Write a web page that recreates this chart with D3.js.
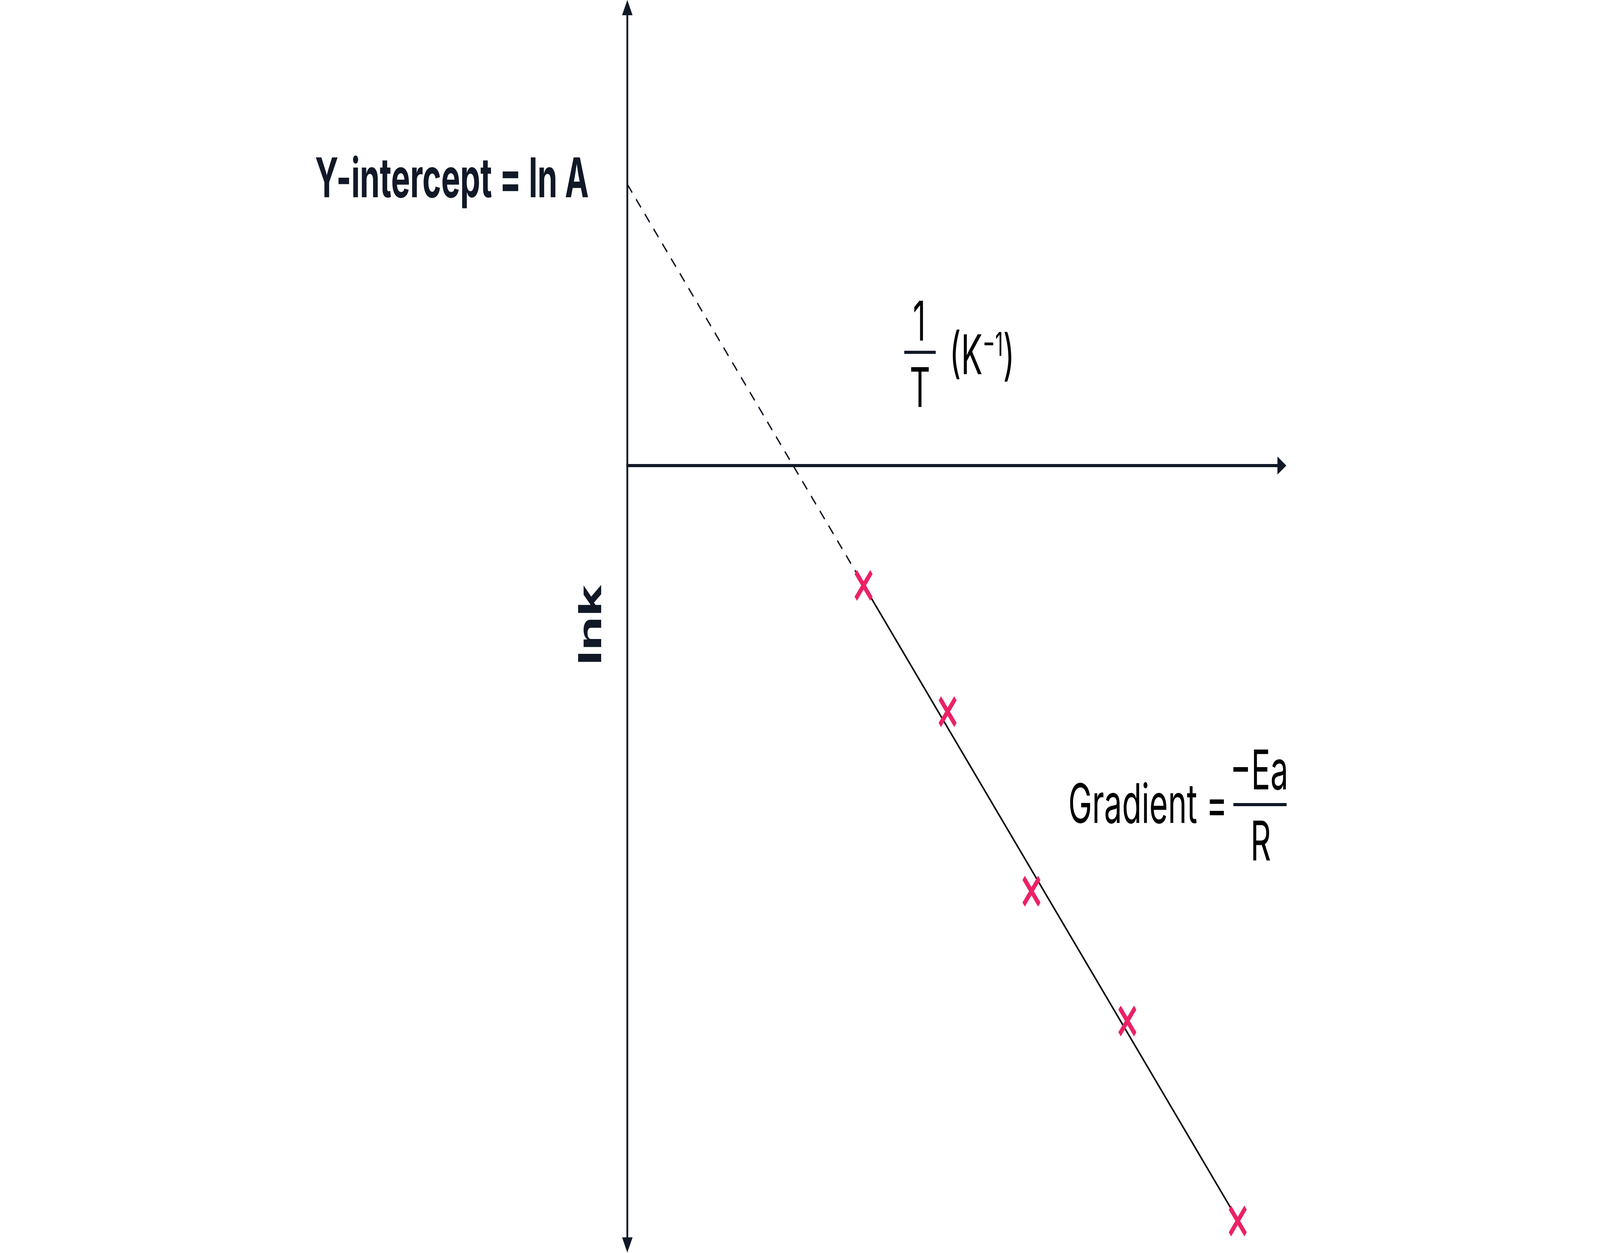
<!DOCTYPE html>
<html>
<head>
<meta charset="utf-8">
<script src="https://cdn.jsdelivr.net/npm/d3@7"></script>
<style>
  html, body { margin: 0; padding: 0; background: #fff; overflow: hidden; }
  svg { display: block; width: 100vw; height: 100vh; }
  text { font-family: Inter, "Noto Sans", sans-serif; }
</style>
</head>
<body>
<div id="chart"></div>
<script>
// points: 1/T (x 10^-3 K^-1) and ln k
const invT = [1.434, 1.944, 2.453, 3.035, 3.705];
const lnK = [-1.023, -2.1, -3.633, -4.74, -6.447];

// best fit line, dashed part is the extrapolation back to the y axis
const dashedX = [0, 1.434];
const dashedY = [2.4, -1.02];
const solidX = [1.434, 3.66];
const solidY = [-1.02, -6.33];

// how far the axes reach
const xDomain = [0, 4];
const yDomain = [-6.717, 3.973];

const width = 7014;
const height = 3208;
const ink = "#111827";
const pink = "#ec2166";

// drawn in a 7014x3208 user space, stretched over the whole window
const svg = d3
  .select("#chart")
  .append("svg")
  .attr("viewBox", `0 0 ${width} ${height}`)
  .attr("preserveAspectRatio", "none")
  .style("background", "#fff");

const x = d3.scaleLinear().domain(xDomain).range([2750, 5639]);
const y = d3.scaleLinear().domain(yDomain).range([3207, 0]);

const x0 = x(0);
const y0 = y(0);
const arrowLen = 39;
const arrowHalf = 23;

// y axis with arrows at both ends
svg
  .append("line")
  .attr("x1", x0)
  .attr("x2", x0)
  .attr("y1", y(yDomain[1]) + arrowLen - 2)
  .attr("y2", y(yDomain[0]) - arrowLen + 2)
  .attr("stroke", ink)
  .attr("stroke-width", 8);

const yTop = y(yDomain[1]);
const yBot = y(yDomain[0]);
svg
  .append("path")
  .attr(
    "d",
    `M${x0},${yTop}L${x0 - arrowHalf},${yTop + arrowLen}L${x0 + arrowHalf},${yTop + arrowLen}Z`
  )
  .attr("fill", ink);
svg
  .append("path")
  .attr(
    "d",
    `M${x0},${yBot}L${x0 - arrowHalf},${yBot - arrowLen}L${x0 + arrowHalf},${yBot - arrowLen}Z`
  )
  .attr("fill", ink);

// x axis, arrow on the right
const xEnd = x(xDomain[1]);
svg
  .append("line")
  .attr("x1", x0 - 4)
  .attr("x2", xEnd - arrowLen + 2)
  .attr("y1", y0)
  .attr("y2", y0)
  .attr("stroke", ink)
  .attr("stroke-width", 8);
svg
  .append("path")
  .attr(
    "d",
    `M${xEnd},${y0}L${xEnd - arrowLen},${y0 - arrowHalf}L${xEnd - arrowLen},${y0 + arrowHalf}Z`
  )
  .attr("fill", ink);

// fit line
const line = d3
  .line()
  .x((d) => x(d[0]))
  .y((d) => y(d[1]));

svg
  .append("path")
  .attr("d", line(d3.zip(dashedX, dashedY)))
  .attr("fill", "none")
  .attr("stroke", ink)
  .attr("stroke-width", 5)
  .attr("stroke-dasharray", "30,24");

svg
  .append("path")
  .attr("d", line(d3.zip(solidX, solidY)))
  .attr("fill", "none")
  .attr("stroke", "#000")
  .attr("stroke-width", 5.5);

// crosses
const cross = d3.symbol().type(d3.symbolX).size(3055);
svg
  .selectAll(".pt")
  .data(d3.zip(invT, lnK))
  .enter()
  .append("path")
  .attr("class", "pt")
  .attr("transform", (d) => `translate(${x(d[0])},${y(d[1])})`)
  .attr("d", cross)
  .attr("fill", "none")
  .attr("stroke", pink)
  .attr("stroke-width", 15);

// labels
svg
  .append("text")
  .attr("x", 2581)
  .attr("y", 505)
  .attr("text-anchor", "end")
  .attr("font-size", 140)
  .attr("font-weight", 700)
  .attr("fill", ink)
  .text("Y-intercept = ln A");

svg
  .append("text")
  .attr("transform", "translate(2636,1600) rotate(-90)")
  .attr("text-anchor", "middle")
  .attr("font-size", 140)
  .attr("font-weight", 700)
  .attr("fill", ink)
  .text("lnk");

// 1/T (K-1)
svg
  .append("text")
  .attr("x", 4030)
  .attr("y", 872)
  .attr("text-anchor", "middle")
  .attr("font-size", 140)
  .attr("fill", "#000")
  .text("1");
svg
  .append("line")
  .attr("x1", 3964)
  .attr("x2", 4102)
  .attr("y1", 902)
  .attr("y2", 902)
  .attr("stroke", ink)
  .attr("stroke-width", 8);
svg
  .append("text")
  .attr("x", 4033)
  .attr("y", 1042)
  .attr("text-anchor", "middle")
  .attr("font-size", 140)
  .attr("fill", "#000")
  .text("T");

const unit = svg
  .append("text")
  .attr("x", 4162)
  .attr("y", 958)
  .attr("font-size", 140)
  .attr("fill", "#000");
unit.append("tspan").text("(K");
unit.append("tspan").attr("font-size", 84).attr("dy", -47).text("\u22121");
unit.append("tspan").attr("dy", 47).text(")");

// Gradient = -Ea/R
svg
  .append("text")
  .attr("x", 4683)
  .attr("y", 2107)
  .attr("font-size", 140)
  .attr("fill", "#000")
  .text("Gradient =");
svg
  .append("text")
  .attr("x", 5520)
  .attr("y", 2021)
  .attr("text-anchor", "middle")
  .attr("font-size", 140)
  .attr("fill", "#000")
  .text("\u2212Ea");
svg
  .append("line")
  .attr("x1", 5407)
  .attr("x2", 5640)
  .attr("y1", 2060)
  .attr("y2", 2060)
  .attr("stroke", ink)
  .attr("stroke-width", 8);
svg
  .append("text")
  .attr("x", 5527)
  .attr("y", 2203)
  .attr("text-anchor", "middle")
  .attr("font-size", 140)
  .attr("fill", "#000")
  .text("R");
</script>
</body>
</html>
